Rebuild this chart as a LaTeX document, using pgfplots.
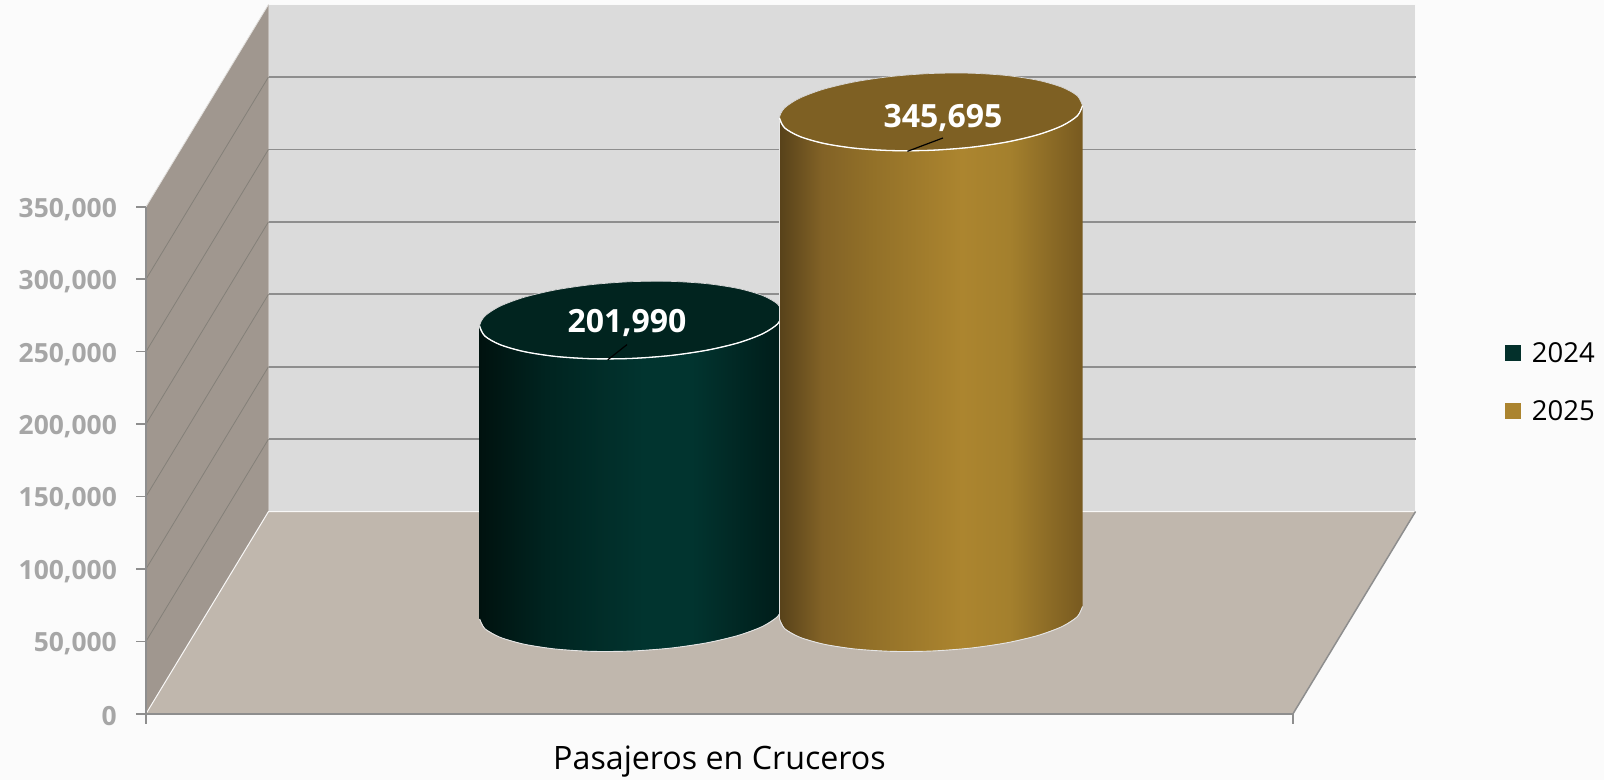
\documentclass[border=0pt]{standalone}
\usepackage{fontspec}
\setmainfont{Open Sans}
\usepackage{pgfplots}
\usepackage{pgfplotstable}
\pgfplotsset{compat=1.18}
\definecolor{bg}{HTML}{FBFBFB}
\definecolor{backw}{HTML}{DBDBDB}
\definecolor{sidew}{HTML}{A0978F}
\definecolor{floorc}{HTML}{C0B7AD}
\definecolor{gridc}{HTML}{8E8E8E}
\definecolor{sidegrid}{HTML}{848079}
\definecolor{ticklab}{HTML}{A6A6A6}
\definecolor{tealtop}{HTML}{01241F}
\definecolor{goldtop}{HTML}{7E6023}
\definecolor{tealleg}{HTML}{03302B}
\definecolor{goldleg}{HTML}{AB842F}
\definecolor{ta}{HTML}{00120F}
\definecolor{tb}{HTML}{002420}
\definecolor{tc}{HTML}{01342F}
\definecolor{td}{HTML}{001C19}
\definecolor{ga}{HTML}{58421A}
\definecolor{gb}{HTML}{826226}
\definecolor{gc}{HTML}{927028}
\definecolor{gd}{HTML}{AC852F}
\definecolor{ge}{HTML}{A4802D}
\definecolor{gf}{HTML}{785A20}
\pgfdeclarehorizontalshading{tealbody}{100bp}{
 color(0bp)=(ta);
 color(25bp)=(ta);
 color(36bp)=(tb);
 color(52bp)=(tc);
 color(60bp)=(tc);
 color(75bp)=(td);
 color(100bp)=(td)}
\pgfdeclarehorizontalshading{goldbody}{100bp}{
 color(0bp)=(ga);
 color(25bp)=(ga);
 color(32bp)=(gb);
 color(40bp)=(gc);
 color(55bp)=(gd);
 color(63bp)=(ge);
 color(75bp)=(gf);
 color(100bp)=(gf)}
% unit ellipse, tilted: u = horizontal offset, w = vertical offset
\pgfplotstableread{
u w
1 0.160
0.966 0.411
0.866 0.632
0.707 0.811
0.5 0.935
0.259 0.995
0 0.987
-0.259 0.912
-0.5 0.775
-0.707 0.585
-0.866 0.355
-0.966 0.101
-1 -0.160
-0.966 -0.411
-0.866 -0.632
-0.707 -0.811
-0.5 -0.935
-0.259 -0.995
0 -0.987
0.259 -0.912
0.5 -0.775
0.707 -0.585
0.866 -0.355
0.966 -0.101
1 0.160
}\ellipsetable
\pgfplotstableread{
u w
-1 -0.160
-0.966 -0.411
-0.866 -0.632
-0.707 -0.811
-0.5 -0.935
-0.259 -0.995
0 -0.987
0.259 -0.912
0.5 -0.775
0.707 -0.585
0.866 -0.355
0.966 -0.101
1 0.160
}\frontarc
\pgfplotstableread{
u w h
-1 -0.160 0
-0.966 -0.411 0
-0.866 -0.632 0
-0.707 -0.811 0
-0.5 -0.935 0
-0.259 -0.995 0
0 -0.987 0
0.259 -0.912 0
0.5 -0.775 0
0.707 -0.585 0
0.866 -0.355 0
0.966 -0.101 0
1 0.160 0
1 0.160 1
0.966 0.411 1
0.866 0.632 1
0.707 0.811 1
0.5 0.935 1
0.259 0.995 1
0 0.987 1
-0.259 0.912 1
-0.5 0.775 1
-0.707 0.585 1
-0.866 0.355 1
-0.966 0.101 1
-1 -0.160 1
-1 -0.160 0
}\bodytable
\def\valA{201990}
\def\valB{345695}
\def\cxA{631.2}
\def\cxB{931}
\def\rx{151.5}
\def\ry{26846}
\def\base{69807}
\begin{document}
\begin{tikzpicture}
\begin{axis}[
 scale only axis, width=1147pt, height=507pt,
 xmin=146, xmax=1293, ymin=0, ymax=350000,
 clip=false, axis on top,
 axis x line*=bottom, axis y line*=left,
 axis line style={color=gridc, line width=1.5pt},
 tick style={color=gridc, line width=1.5pt},
 tick align=outside, major tick length=10pt,
 xtick={146,1293}, xticklabels={},
 ytick={0,50000,100000,150000,200000,250000,300000,350000},
 scaled y ticks=false,
 /pgf/number format/fixed,
 /pgf/number format/1000 sep={,},
 /pgf/number format/assume math mode=true,
 ticklabel style={font=\fontsize{26.4}{30}\selectfont\bfseries, text=ticklab},
 y tick label style={inner sep=0pt, yshift=-2.5pt},
 yticklabel shift=19pt,
 xlabel={Pasajeros en Cruceros},
 xlabel style={font=\fontsize{32.2}{34}\selectfont, text=black, inner sep=0pt, yshift=-15.5pt},
 legend style={at={(axis cs:1505,258000)}, anchor=north west, draw=none, fill=none,
   font=\fontsize{27.5}{32}\selectfont, row sep=33pt, inner sep=0pt,
   /tikz/every odd column/.append style={column sep=9pt}},
 legend cell align=left,
 legend image code/.code={\fill[#1, draw=none] (0pt,-8pt) rectangle (15.6pt,8pt);},
 legend entries={2024,2025},
]
% page background
\addplot[forget plot, fill=bg, draw=none] coordinates {(0,-45549) (1604,-45549) (1604,492753) (0,492753) (0,-45549)};
% back wall
\addplot[forget plot, fill=backw, draw=white!85!backw, line width=1pt] coordinates {(268.5,139614) (1415.5,139614) (1415.5,489614) (268.5,489614) (268.5,139614)};
% side wall
\addplot[forget plot, fill=sidew, draw=none] coordinates {(146,0) (268.5,139614) (268.5,489614) (146,350000) (146,0)};
\addplot[forget plot, draw=white!70!sidew, line width=0.8pt] coordinates {(146,350000) (268.5,489614)};
% back-wall and side-wall gridlines
\addplot[forget plot, draw=gridc, line width=1.7pt] coordinates {(268.5,189614) (1415.5,189614)};
\addplot[forget plot, draw=gridc, line width=1.7pt] coordinates {(268.5,239614) (1415.5,239614)};
\addplot[forget plot, draw=gridc, line width=1.7pt] coordinates {(268.5,289614) (1415.5,289614)};
\addplot[forget plot, draw=gridc, line width=1.7pt] coordinates {(268.5,339614) (1415.5,339614)};
\addplot[forget plot, draw=gridc, line width=1.7pt] coordinates {(268.5,389614) (1415.5,389614)};
\addplot[forget plot, draw=gridc, line width=1.7pt] coordinates {(268.5,439614) (1415.5,439614)};
\addplot[forget plot, draw=sidegrid, line width=0.8pt] coordinates {(146,50000) (268.5,189614)};
\addplot[forget plot, draw=sidegrid, line width=0.8pt] coordinates {(146,100000) (268.5,239614)};
\addplot[forget plot, draw=sidegrid, line width=0.8pt] coordinates {(146,150000) (268.5,289614)};
\addplot[forget plot, draw=sidegrid, line width=0.8pt] coordinates {(146,200000) (268.5,339614)};
\addplot[forget plot, draw=sidegrid, line width=0.8pt] coordinates {(146,250000) (268.5,389614)};
\addplot[forget plot, draw=sidegrid, line width=0.8pt] coordinates {(146,300000) (268.5,439614)};
% floor
\addplot[forget plot, fill=floorc, draw=none] coordinates {(146,0) (1293,0) (1415.5,139614) (268.5,139614) (146,0)};
\addplot[forget plot, draw=white!90!floorc, line width=1pt] coordinates {(146,0) (268.5,139614) (1415.5,139614)};
\addplot[forget plot, draw=gridc, line width=1.5pt] coordinates {(1293,0) (1415.5,139614)};
% 2024
\addplot[forget plot, shade, shading=tealbody, draw=none] table[x expr={\cxA+\rx*\thisrow{u}}, y expr={\base+\thisrow{h}*\valA+\ry*\thisrow{w}}] {\bodytable};
\addplot[forget plot, draw=white!90!black, line width=0.9pt, smooth] table[x expr={\cxA+\rx*\thisrow{u}}, y expr={\base+\ry*\thisrow{w}}] {\frontarc};
\addplot[forget plot, fill=tealtop, draw=white!85!black, line width=0.7pt, smooth] table[x expr={\cxA+\rx*\thisrow{u}}, y expr={\base+\valA+\ry*\thisrow{w}}] {\ellipsetable};
\addplot[forget plot, draw=white, line width=1.3pt, smooth] table[x expr={\cxA+\rx*\thisrow{u}}, y expr={\base+\valA+\ry*\thisrow{w}}] {\frontarc};
\addplot[forget plot, draw=black, line width=1.2pt] coordinates {(607.7,244306) (627,254865)};
% 2025
\addplot[forget plot, shade, shading=goldbody, draw=none] table[x expr={\cxB+\rx*\thisrow{u}}, y expr={\base+\thisrow{h}*\valB+\ry*\thisrow{w}}] {\bodytable};
\addplot[forget plot, draw=white!90!black, line width=0.7pt] coordinates {(779.5,65500) (779.5,411000)};
\addplot[forget plot, draw=white!90!black, line width=0.9pt, smooth] table[x expr={\cxB+\rx*\thisrow{u}}, y expr={\base+\ry*\thisrow{w}}] {\frontarc};
\addplot[forget plot, fill=goldtop, draw=white!85!black, line width=0.7pt, smooth] table[x expr={\cxB+\rx*\thisrow{u}}, y expr={\base+\valB+\ry*\thisrow{w}}] {\ellipsetable};
\addplot[forget plot, draw=white, line width=1.3pt, smooth] table[x expr={\cxB+\rx*\thisrow{u}}, y expr={\base+\valB+\ry*\thisrow{w}}] {\frontarc};
\addplot[forget plot, draw=black, line width=1.2pt] coordinates {(907.4,388270) (943,397515)};
% value labels
\node[text=white, font=\fontsize{32}{36}\selectfont\bfseries] at (axis cs:627,269800) {201,990};
\node[text=white, font=\fontsize{32}{36}\selectfont\bfseries] at (axis cs:943,411500) {345,695};
\addlegendimage{fill=tealleg}
\addlegendimage{fill=goldleg}
\end{axis}
\end{tikzpicture}
\end{document}
